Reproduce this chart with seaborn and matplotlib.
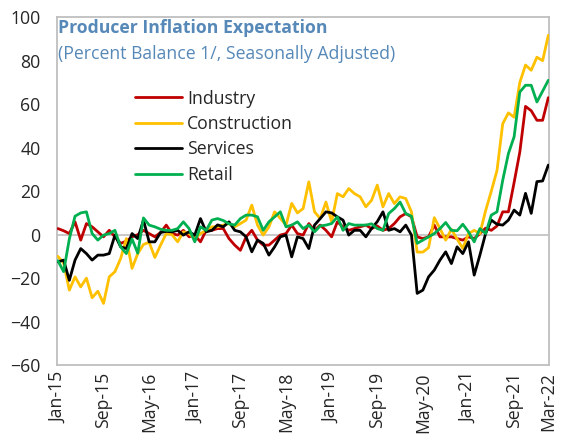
import numpy as np
import pandas as pd
import matplotlib
matplotlib.use('Agg')
import matplotlib.pyplot as plt
import seaborn as sns

# 월별 데이터 (Jan-15 ~ Mar-22)
months = pd.date_range('2015-01-01', '2022-03-01', freq='MS')

industry = [
    2.8, 1.8, 0.5, 5.9, -2.5, 5.1, 3.6, 1.3, -1, 2,
    -1, -4, -3, -1, 0, 2, 0.5, -1, 1, 4.4,
    0.5, -0.2, 2, -1, -0.2, -3.3, 2, 2, 2.8, 2.8,
    -1.8, -4.8, -7.2, -1, 2, -2.5, -4.8, -4.8, -2.5, -0.2,
    0.5, 4.4, 0.5, -0.2, 5.1, 2, 4.4, 2, -1, 5.9,
    3.6, 2, 2.8, 3.6, 4.4, 2.8, 4, 2, 2.8, 5.1,
    8.2, 9.7, 8.2, -1, -1.8, -1, 4.4, -1, -1, -1,
    -1.8, -2.5, -1, -1.8, 0.5, 3, 2, 4, 10.5, 10.5,
    24, 38, 59, 57, 52.6, 52.6, 63]

construction = [
    -10, -13, -25.5, -19.4, -24, -20, -29, -26, -31.6, -19.4,
    -17, -11, -1.8, -15.5, -8.7, -4.5, -3.5, -10.5, -4.8, 0.5,
    0, -3.3, 1.3, 0.5, -1.8, 0.5, 2, 3.6, 3.6, 4.4,
    5.1, 3.6, 5.1, 6.7, 13.6, 4.4, -0.2, 3.6, 10.5, 7.5,
    4.4, 14.4, 10, 12, 24.3, 10.5, 7.4, 15, 5.9, 18.9,
    17.4, 21.2, 18.9, 17.4, 12.8, 15.8, 22.8, 12.8, 18.9, 14.3,
    17.4, 16.6, 10.5, -8, -8, -6, 7.8, 2.8, -2.5, 2.5,
    -2, -6.3, 0.5, 2, 0.5, 11, 20, 29.5, 51, 56,
    54, 70, 78, 75.6, 81.6, 80, 91.7]

services = [
    -12.5, -11.7, -21, -11.7, -6.4, -8.7, -11.7, -9.4, -9.4, -8.7,
    -0.2, -5.6, -6.4, 0.5, -1.8, 6.7, -3.3, -3.3, 1, 1.5,
    1.3, 2, -0.2, 1.3, -0.2, 7.4, 1.3, 2, 4.5, 3.6,
    5.9, 2, 1.3, -1, -7.9, -2.5, -4, -9.4, -5.6, -1,
    -0.2, -10.2, -1, -1.8, -6.4, 4.4, 7.4, 10.5, 10, 8.2,
    6.7, -0.2, 2, 2, -1, 2.8, 6, 10.5, 2, 2.8,
    1.3, 4.4, -0.2, -27, -25.5, -19.4, -16.3, -11.7, -7.9, -13.3,
    -5.6, -8.7, -3.3, -18.6, -9.4, 0.5, 6.7, 4.8, 4.4, 6.7,
    11.3, 9, 19, 9.8, 24.4, 24.7, 32]

retail = [
    -12, -17, -2, 8.5, 10, 10.5, 0.5, -2.5, -0.2, 0.5,
    2, -5.6, -8.7, -2, -8.5, 7.7, 4.4, 3.6, 2.5, 2,
    2, 2.8, 5.9, 2.8, -3.3, 3.6, 2, 6.7, 7.4, 6.5,
    5, 4.4, 7.4, 9, 9, 8.2, 2, 5.9, 8.2, 10.5,
    3.6, 4.4, 5.9, 2.8, 4.4, 1.3, 4, 4.4, 5.1, 8.2,
    2, 5.1, 4.4, 4.4, 4.4, 5, 2.8, 2, 9.7, 12,
    15, 9.7, 8.5, -4, -2.5, -1, 0.5, 2.8, 5.6, 2,
    1.8, 4.8, 1.3, -3.3, 2.8, 0.5, 9, 10.5, 25, 37.3,
    45, 65.6, 68.7, 68.7, 61, 66, 71]

series_names = ['Industry', 'Construction', 'Services', 'Retail']
colors = {'Industry': '#C00000', 'Construction': '#FFC000',
          'Services': '#000000', 'Retail': '#00B050'}

# long format 데이터프레임
idx = np.arange(len(months))
df = pd.concat([
    pd.DataFrame({'idx': idx, 'value': vals, 'series': name})
    for name, vals in zip(series_names, [industry, construction, services, retail])
])

sns.set_style('white')
plt.rcParams['font.family'] = ['Open Sans', 'DejaVu Sans']
fs = 12.7

fig = plt.figure(figsize=(5.65, 4.41), dpi=100)
ax = fig.add_axes([0.101, 0.172, 0.871, 0.789])

ax.axhline(0, color='#BFBFBF', lw=1.2, zorder=1)
sns.lineplot(data=df, x='idx', y='value', hue='series', hue_order=series_names,
             palette=colors, linewidth=2, ax=ax, zorder=3)

ax.set_xlim(-0.15, 86.15)
ax.set_ylim(-60, 100)
ax.set_yticks(np.arange(-60, 101, 20))
ax.tick_params(axis='y', direction='in', length=5, color='#BFBFBF', pad=12, labelsize=fs)
tick_pos = list(idx[::8]) + [idx[-1]]
ax.set_xticks(tick_pos)
ax.set_xticklabels([months[i].strftime('%b-%y') for i in tick_pos], rotation=90)
ax.tick_params(axis='x', length=0, pad=5, labelsize=fs)
ax.set_xlabel('')
ax.set_ylabel('')

for s in ax.spines.values():
    s.set_color('#BFBFBF')
    s.set_linewidth(1.3)

ax.text(0.002, 0.995, 'Producer Inflation Expectation', transform=ax.transAxes,
        ha='left', va='top', fontsize=fs, fontweight='bold', color='#5688B8')
ax.text(0.002, 0.92, '(Percent Balance 1/, Seasonally Adjusted)', transform=ax.transAxes,
        ha='left', va='top', fontsize=fs, color='#5688B8')

ax.legend(loc='upper left', bbox_to_anchor=(0.158, 0.792), frameon=False,
          fontsize=fs, handlelength=2.7, handletextpad=0.25, labelspacing=0.42,
          borderaxespad=0, borderpad=0)

plt.savefig('out.png', dpi=100)
